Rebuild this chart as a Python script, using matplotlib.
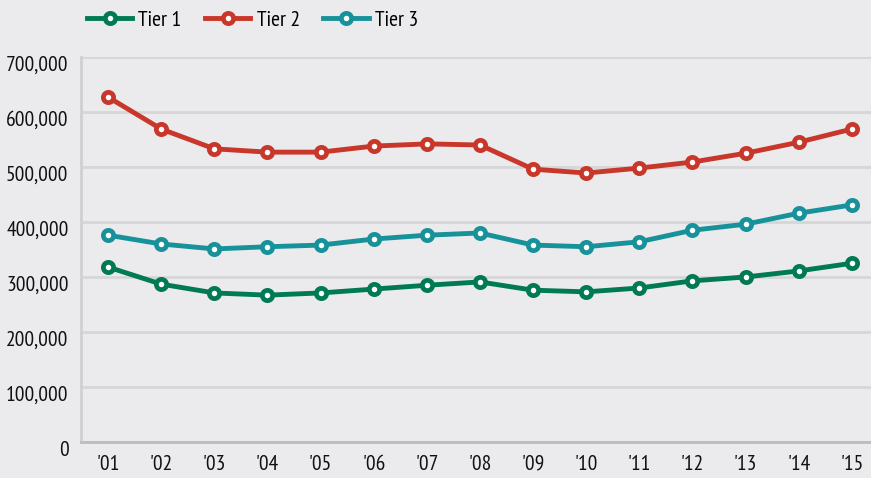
import numpy as np
import matplotlib
matplotlib.use('Agg')
import matplotlib.pyplot as plt
from matplotlib.transforms import ScaledTranslation

plt.rcParams['font.family'] = ['PT Sans Narrow', 'DejaVu Sans']

years = ["'01", "'02", "'03", "'04", "'05", "'06", "'07", "'08",
         "'09", "'10", "'11", "'12", "'13", "'14", "'15"]
tier1 = [318000, 287000, 271000, 267000, 271000, 278000, 285000, 291000,
         276000, 273000, 280000, 293000, 300000, 311000, 325000]
tier2 = [627000, 569000, 533000, 527000, 527000, 538000, 542000, 540000,
         496000, 489000, 498000, 509000, 525000, 545000, 569000]
tier3 = [376000, 360000, 351000, 355000, 358000, 369000, 376000, 380000,
         358000, 355000, 364000, 385000, 396000, 416000, 431000]

bg = '#ebebed'
fig = plt.figure(figsize=(8.71, 4.78), dpi=100, facecolor=bg)
ax = fig.add_axes([0.093, 0.0753, 0.907, 0.8055], facecolor=bg)

x = np.arange(len(years))
series = [('Tier 1', tier1, '#007a55'),
          ('Tier 2', tier2, '#c8372a'),
          ('Tier 3', tier3, '#17929a')]
for name, vals, col in series:
    ax.plot(x, vals, color=col, lw=3.5, marker='o', ms=7.4,
            mfc='white', mec=col, mew=3.4, label=name, zorder=3)

ax.set_ylim(0, 700000)
ax.set_xlim(-0.51, 14.36)
ax.set_yticks(np.arange(0, 700001, 100000))
ax.set_yticklabels([f'{v:,}' for v in range(0, 700001, 100000)])
ax.set_xticks(x)
ax.set_xticklabels(years)
ax.grid(axis='y', color='#d6d6d8', lw=2, zorder=0)
ax.tick_params(axis='both', length=0, labelsize=15.5, colors='#111111')
ax.tick_params(axis='x', pad=9)
ax.tick_params(axis='y', pad=9)

# y labels sit a little below their gridlines in the original
off = ScaledTranslation(0, -6 / 100, fig.dpi_scale_trans)
for lab in ax.get_yticklabels():
    lab.set_transform(lab.get_transform() + off)

for s in ['top', 'right']:
    ax.spines[s].set_visible(False)
ax.spines['left'].set_color('#d0d0d2')
ax.spines['left'].set_linewidth(2)
ax.spines['bottom'].set_color('#bcbcbe')
ax.spines['bottom'].set_linewidth(2)

fig.legend(loc='center left', bbox_to_anchor=(0.1, 0.958), ncol=3,
           frameon=False, fontsize=15.5, handlelength=2.1, columnspacing=1.1,
           handletextpad=0.28, borderaxespad=0, borderpad=0)

fig.savefig('out.png', dpi=100, facecolor=bg)
